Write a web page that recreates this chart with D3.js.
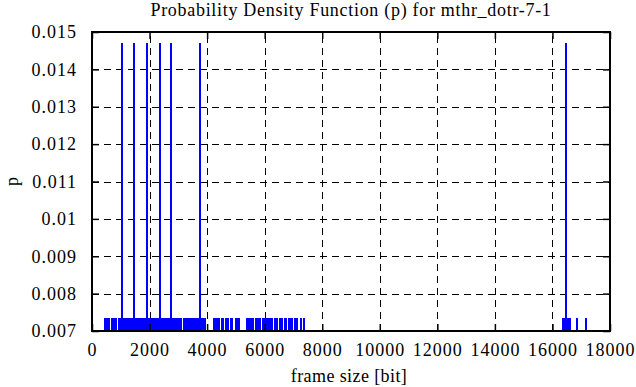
<!DOCTYPE html>
<html>
<head>
<meta charset="utf-8">
<script src="https://cdn.jsdelivr.net/npm/d3@7/dist/d3.min.js"></script>
<style>
  body { margin: 0; background: #fff; }
  svg { display: block; }
  svg text { font-family: "Liberation Serif", serif; }
</style>
</head>
<body>
<div id="chart"></div>
<script>
const TITLE = 'Probability Density Function (p) for mthr_dotr-7-1';
const X_LABEL = 'frame size [bit]';
const Y_LABEL = 'p';

const X_TICKS = [0, 2000, 4000, 6000, 8000, 10000, 12000, 14000, 16000, 18000];
const Y_TICKS = [0.007, 0.008, 0.009, 0.01, 0.011, 0.012, 0.013, 0.014, 0.015];

// frame sizes seen twice (p = 2/136)
const DOUBLE_SIZES = [1040, 1470, 1910, 2370, 2745, 3765, 16480];
const DOUBLE_P = 0.0147;

// frame sizes seen once (p = 1/136)
const SINGLE_SIZES = [
  452, 521, 591, 678, 765, 834, 921, 990, 1112, 1182,
  1216, 1251, 1286, 1321, 1355, 1390, 1425, 1494, 1529, 1564, 1599, 1634,
  1668, 1703, 1738, 1773, 1807, 1842, 1877, 1946, 1981,
  2016, 2050, 2085, 2120, 2189, 2224, 2259, 2294, 2328, 2433, 2467, 2537,
  2572, 2606, 2676, 2711, 2815, 2850, 2884, 2919, 2989, 3023, 3058, 3093,
  3197, 3232, 3267, 3301, 3371, 3440, 3475, 3510, 3579, 3614, 3684, 3718,
  3823, 3892, 3927,
  4240, 4280, 4310, 4390, 4420, 4530, 4560, 4660, 4700, 4740, 4830, 4870,
  4990, 5030, 5060, 5100, 5400, 5440, 5480, 5570, 5610, 5710, 5750, 5790,
  5840, 5950, 5990, 6020, 6060, 6100, 6130, 6170, 6200, 6240, 6270,
  6350, 6390, 6420, 6530, 6570, 6600, 6710, 6750, 6860, 6900, 6940,
  7070, 7110, 7250, 7380,
  16367, 16402, 16436, 16541, 16576, 16610, 16854, 17166
];
const SINGLE_P = 0.00735;

const width = 636;
const height = 387;
const margin = { left: 92, right: 26, top: 32, bottom: 56 };
const FONT = 'Liberation Serif';

const svg = d3.select('#chart')
  .append('svg')
    .attr('width', width)
    .attr('height', height);

const x = d3.scaleLinear()
  .domain([0, 18000])
  .range([margin.left, width - margin.right]);

const y = d3.scaleLinear()
  .domain([0.007, 0.015])
  .range([height - margin.bottom, margin.top]);

const x0 = margin.left, x1 = width - margin.right;
const y0 = height - margin.bottom, y1 = margin.top;

// dashed grid
const grid = svg.append('g')
  .attr('stroke', '#000')
  .attr('stroke-width', 1)
  .attr('stroke-dasharray', '7,5')
  .attr('shape-rendering', 'crispEdges');

grid.selectAll('line.gx')
  .data(X_TICKS.slice(1, -1))
  .join('line')
    .attr('x1', d => Math.round(x(d)) + 0.5)
    .attr('x2', d => Math.round(x(d)) + 0.5)
    .attr('y1', y0)
    .attr('y2', y1);

grid.selectAll('line.gy')
  .data(Y_TICKS.slice(1, -1))
  .join('line')
    .attr('y1', d => Math.round(y(d)) + 0.5)
    .attr('y2', d => Math.round(y(d)) + 0.5)
    .attr('x1', x0)
    .attr('x2', x1);

// impulses
const frames = SINGLE_SIZES.map(s => ({ size: s, p: SINGLE_P }))
  .concat(DOUBLE_SIZES.map(s => ({ size: s, p: DOUBLE_P })));

svg.append('g')
  .attr('stroke', '#0000ff')
  .attr('stroke-width', 2)
  .attr('shape-rendering', 'crispEdges')
  .selectAll('line')
  .data(frames)
  .join('line')
    .attr('x1', d => Math.round(x(d.size)))
    .attr('x2', d => Math.round(x(d.size)))
    .attr('y1', y0)
    .attr('y2', d => y(d.p));

// axes with inward ticks, mirrored on all sides
const tickLen = 7;
const fontSize = 18;

const xAxis = d3.axisBottom(x).tickValues(X_TICKS).tickFormat(d3.format('d'))
  .tickSizeInner(-tickLen).tickSizeOuter(0).tickPadding(tickLen + 5);
const xAxisTop = d3.axisTop(x).tickValues(X_TICKS).tickFormat('')
  .tickSizeInner(-tickLen).tickSizeOuter(0);
const yAxis = d3.axisLeft(y).tickValues(Y_TICKS).tickFormat(d => String(+d.toFixed(3)))
  .tickSizeInner(-tickLen).tickSizeOuter(0).tickPadding(tickLen + 8);
const yAxisRight = d3.axisRight(y).tickValues(Y_TICKS).tickFormat('')
  .tickSizeInner(-tickLen).tickSizeOuter(0);

function styleAxis(g) {
  g.attr('font-family', FONT).attr('font-size', fontSize);
  g.select('.domain').remove();
  g.selectAll('.tick line').attr('stroke', '#000').attr('stroke-width', 1.5);
  g.selectAll('.tick text')
    .attr('font-family', FONT)
    .style('letter-spacing', '1px')
    .attr('fill', '#000');
}

svg.append('g')
  .attr('transform', 'translate(0,' + y0 + ')')
  .call(xAxis).call(styleAxis);
svg.append('g')
  .attr('transform', 'translate(0,' + y1 + ')')
  .call(xAxisTop).call(styleAxis);
svg.append('g')
  .attr('transform', 'translate(' + x0 + ',0)')
  .call(yAxis).call(styleAxis);
svg.append('g')
  .attr('transform', 'translate(' + x1 + ',0)')
  .call(yAxisRight).call(styleAxis);

// frame
svg.append('rect')
  .attr('x', x0)
  .attr('y', y1)
  .attr('width', x1 - x0)
  .attr('height', y0 - y1)
  .attr('fill', 'none')
  .attr('stroke', '#000')
  .attr('stroke-width', 2);

// labels
svg.append('text')
  .attr('x', (x0 + x1) / 2)
  .attr('y', 16)
  .attr('text-anchor', 'middle')
  .attr('font-size', 18)
  .style('letter-spacing', '0.7px')
  .text(TITLE);

svg.append('text')
  .attr('x', (x0 + x1) / 2 - 2)
  .attr('y', 382)
  .attr('text-anchor', 'middle')
  .attr('font-size', 18)
  .style('letter-spacing', '0.4px')
  .text(X_LABEL);

svg.append('text')
  .attr('transform', 'translate(18,' + ((y0 + y1) / 2) + ') rotate(-90)')
  .attr('text-anchor', 'middle')
  .attr('font-size', 18)
  .text(Y_LABEL);
</script>
</body>
</html>
